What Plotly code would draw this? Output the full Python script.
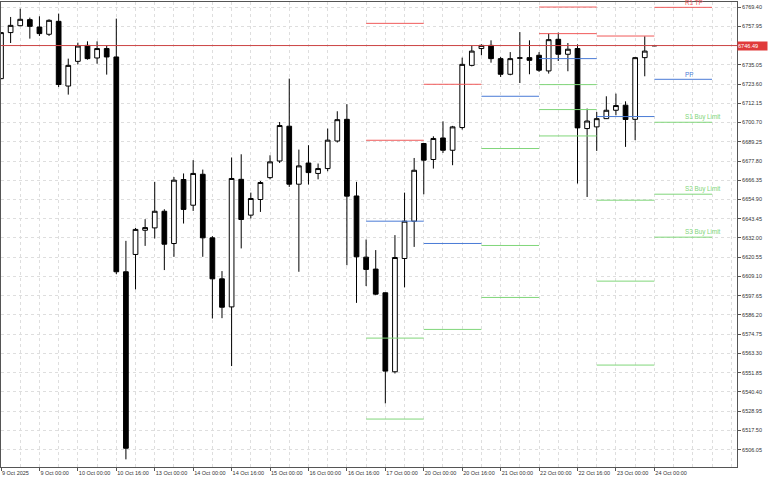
import plotly.graph_objects as go

# ---- candle data (4H bars) ----
opens = [6726.8, 6754.2, 6758.3, 6761.9, 6757.5, 6753.2, 6760.9, 6722.4, 6737.1, 6746.6,
         6739.1, 6744.7, 6739.7, 6611.9, 6622.2, 6636.6, 6638.0, 6647.9, 6628.7, 6666.8,
         6651.5, 6669.9, 6632.1, 6607.7, 6591.0, 6666.9, 6645.6, 6654.9, 6667.9, 6677.8,
         6698.5, 6664.0, 6676.6, 6670.4, 6673.3, 6689.7, 6702.6, 6657.0, 6620.6, 6613.5,
         6599.4, 6552.4, 6619.8, 6642.0, 6688.2, 6678.7, 6691.5, 6684.2, 6697.7, 6734.7,
         6744.7, 6746.6, 6738.7, 6729.4, 6738.9, 6739.3, 6740.7, 6731.4, 6750.2, 6741.3,
         6744.7, 6697.1, 6698.1, 6703.0, 6708.0, 6711.0, 6702.6, 6739.3, 6746.3]
highs = [6754.5, 6763.5, 6768.4, 6763.1, 6763.9, 6762.1, 6765.5, 6738.7, 6748.2, 6749.0,
         6749.0, 6746.6, 6762.5, 6630.3, 6638.0, 6643.2, 6665.4, 6649.1, 6668.3, 6670.4,
         6678.3, 6672.7, 6633.1, 6612.3, 6679.9, 6681.8, 6659.0, 6665.9, 6681.2, 6701.0,
         6726.8, 6684.6, 6687.2, 6676.3, 6697.1, 6707.4, 6711.6, 6665.4, 6631.1, 6624.8,
         6599.6, 6633.7, 6659.0, 6679.6, 6688.4, 6692.5, 6701.4, 6698.7, 6739.3, 6746.6,
         6747.2, 6749.6, 6739.7, 6742.6, 6754.5, 6749.6, 6742.6, 6753.6, 6754.2, 6748.0,
         6747.2, 6709.0, 6707.0, 6716.3, 6717.9, 6713.3, 6739.7, 6752.0, 6746.6]
lows = [6726.5, 6748.0, 6758.0, 6750.6, 6752.2, 6752.2, 6721.8, 6717.3, 6735.3, 6738.1,
        6735.7, 6729.2, 6610.5, 6500.3, 6601.4, 6627.3, 6631.7, 6612.9, 6620.8, 6640.6,
        6648.1, 6620.8, 6584.1, 6584.3, 6555.8, 6625.8, 6643.6, 6647.5, 6666.9, 6676.6,
        6662.4, 6611.9, 6663.8, 6666.9, 6671.7, 6688.8, 6615.8, 6593.4, 6603.4, 6598.0,
        6533.6, 6551.4, 6602.6, 6626.7, 6658.0, 6673.3, 6682.6, 6675.3, 6696.5, 6734.1,
        6740.7, 6736.3, 6727.8, 6728.8, 6724.2, 6729.4, 6730.8, 6729.8, 6737.3, 6731.2,
        6664.4, 6656.4, 6683.8, 6702.8, 6705.0, 6686.2, 6690.2, 6728.2, 6746.2]
closes = [6754.2, 6758.5, 6762.1, 6757.9, 6753.6, 6761.5, 6723.3, 6734.7, 6746.2, 6738.7,
          6744.7, 6739.7, 6611.9, 6506.9, 6637.1, 6638.2, 6647.9, 6628.3, 6666.4, 6649.0,
          6670.4, 6632.1, 6607.7, 6590.8, 6667.4, 6643.0, 6655.5, 6665.0, 6677.3, 6698.9,
          6664.0, 6674.9, 6670.9, 6673.3, 6690.2, 6702.4, 6656.9, 6620.8, 6613.3, 6598.6,
          6552.8, 6620.4, 6642.0, 6672.3, 6678.3, 6691.2, 6684.2, 6698.1, 6735.3, 6743.2,
          6746.6, 6738.7, 6729.4, 6738.7, 6739.2, 6737.7, 6731.8, 6750.0, 6741.3, 6744.3,
          6697.5, 6701.6, 6703.0, 6708.0, 6710.8, 6702.5, 6739.3, 6743.2, 6746.49]

# ---- time axis labels (bar index -> text) ----
label_idx = [0, 4, 8, 12, 16, 20, 24, 28, 32, 36, 40, 44, 48, 52, 56, 60, 64, 68]
label_txt = ["9 Oct 2025", "9 Oct 00:00", "10 Oct 00:00", "10 Oct 16:00", "13 Oct 00:00",
             "14 Oct 00:00", "14 Oct 16:00", "15 Oct 00:00", "16 Oct 00:00", "16 Oct 16:00",
             "17 Oct 00:00", "20 Oct 00:00", "20 Oct 16:00", "21 Oct 00:00", "22 Oct 00:00",
             "22 Oct 16:00", "23 Oct 00:00", "24 Oct 00:00"]

# ---- price axis ticks ----
price_ticks = [6769.40, 6757.95, 6746.50, 6735.05, 6723.60, 6712.15, 6700.70, 6689.25,
               6677.80, 6666.35, 6654.90, 6643.45, 6632.00, 6620.55, 6609.10, 6597.65,
               6586.20, 6574.75, 6563.30, 6551.85, 6540.40, 6528.95, 6517.50, 6506.05]
current_price = 6746.49

# ---- daily pivot levels (segment start bar, 6 bars long) ----
day_start = [38, 44, 50, 56, 62, 68]
day_len = 6
R2 = [6759.7, None, None, 6769.4, None, None]
R1 = [6690.15, 6723.44, None, 6753.58, 6752.16, 6769.22]
PP = [6642.0, 6628.74, 6716.31, 6738.72, 6704.24, 6726.41]
S1 = [6572.44, 6577.61, 6685.22, 6723.26, 6654.48, 6700.85]
S2 = [6524.28, None, 6627.55, 6708.40, 6606.33, 6658.05]
S3 = [None, None, 6596.63, 6692.71, 6556.39, 6632.49]
last_labels = {"R1": "R1 TP", "PP": "PP", "S1": "S1 Buy Limit", "S2": "S2 Buy Limit", "S3": "S3 Buy Limit"}

RED = "#f05a5a"
BLUE = "#4a7bd6"
GREEN = "#80d67a"
level_sets = [("R2", R2, RED), ("R1", R1, RED), ("PP", PP, BLUE),
              ("S1", S1, GREEN), ("S2", S2, GREEN), ("S3", S3, GREEN)]

n = len(opens)
xs = list(range(n))
x_min, x_max = 0, 76.6

fig = go.Figure()
# current price line (below candles)
fig.add_trace(go.Scatter(x=[x_min, x_max], y=[current_price, current_price], mode="lines",
                         line=dict(color="#cc4444", width=1), hoverinfo="skip", showlegend=False))
fig.add_trace(go.Candlestick(
    x=xs, open=opens, high=highs, low=lows, close=closes,
    increasing=dict(line=dict(color="#000000", width=1), fillcolor="#ffffff"),
    decreasing=dict(line=dict(color="#000000", width=1), fillcolor="#000000"),
    whiskerwidth=0, hoverinfo="skip", showlegend=False))

annotations = []
label_x = 70.98
for name, vals, col in level_sets:
    for d, v in zip(day_start, vals):
        if v is None:
            continue
        fig.add_trace(go.Scatter(x=[d, d + day_len], y=[v, v], mode="lines",
                                 line=dict(color=col, width=1), hoverinfo="skip",
                                 showlegend=False))
    v_last = vals[-1]
    if v_last is not None and name in last_labels:
        annotations.append(dict(x=label_x, y=v_last, xref="x", yref="y", text=last_labels[name],
                                showarrow=False, xanchor="left", yanchor="bottom",
                                font=dict(size=6.3, color=col, family="Liberation Sans"),
                                yshift=-1))

# current price tag
annotations.append(dict(x=1, y=current_price, xref="paper", yref="y", text="%.2f" % current_price,
                        showarrow=False, xanchor="left", yanchor="middle", xshift=0,
                        width=29, height=8, align="left",
                        bgcolor="#e03a3a", borderpad=0,
                        font=dict(size=5.6, color="#ffffff", family="Liberation Sans")))

ytext = ["%.2f" % t for t in price_ticks]
ytext[2] = ""

fig.update_layout(
    width=768, height=480,
    margin=dict(l=1, r=31, t=2, b=13),
    paper_bgcolor="#ffffff", plot_bgcolor="#ffffff",
    font=dict(family="Liberation Sans", size=5.5, color="#333333"),
    annotations=annotations,
    showlegend=False,
    boxgap=0.3,
)
fig.update_xaxes(
    range=[x_min, x_max], rangeslider_visible=False,
    tickmode="array", tickvals=label_idx, ticktext=label_txt, tickangle=0,
    ticks="outside", ticklen=3, tickcolor="#555555",
    ticklabelposition="outside right",
    tickfont=dict(size=5.5, color="#333333", family="Liberation Sans"),
    showgrid=True, gridcolor="#dedede", griddash="3px,3px", gridwidth=1,
    minor=dict(tickmode="linear", tick0=0, dtick=2, showgrid=True, gridcolor="#dedede",
               griddash="3px,3px", ticks=""),
    showline=True, linecolor="#555555", linewidth=1, mirror=True, zeroline=False,
)
fig.update_yaxes(
    range=[6495.75, 6772.4], side="right",
    tickmode="array", tickvals=price_ticks, ticktext=ytext,
    ticks="outside", ticklen=3, tickcolor="#555555",
    tickfont=dict(size=5.5, color="#333333", family="Liberation Sans"),
    showgrid=True, gridcolor="#dedede", griddash="3px,3px", gridwidth=1,
    showline=True, linecolor="#555555", linewidth=1, mirror=True, zeroline=False,
)

fig.write_html("out.html", config={"displayModeBar": False},
               post_script="document.body.style.margin='0px';")
